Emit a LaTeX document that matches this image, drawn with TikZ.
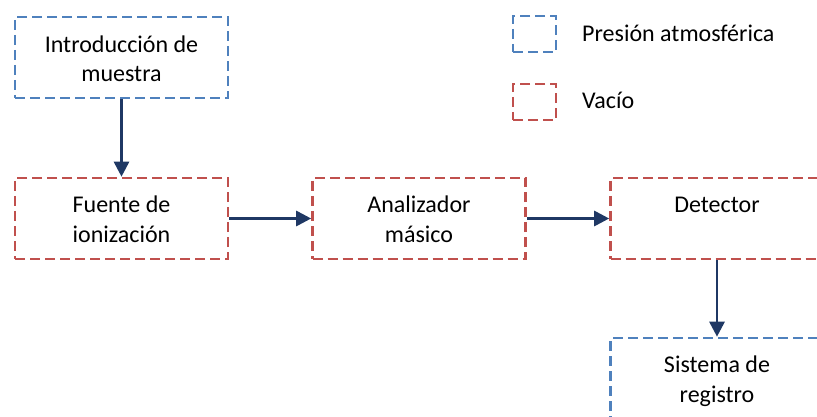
\documentclass[tikz,border=0pt]{standalone}
\usepackage{fontspec}
\setmainfont{Carlito}
\usetikzlibrary{arrows.meta}
\definecolor{bluebox}{HTML}{4F81BD}
\definecolor{redbox}{HTML}{C0504D}
\definecolor{navy}{HTML}{1F3864}
\tikzset{
  pbox/.style={draw=bluebox, line width=2.6pt, dash pattern=on 10pt off 5pt, minimum width=213pt, minimum height=81pt, inner sep=0pt},
  vbox/.style={pbox, draw=redbox},
  lbox/.style={line width=2.6pt, dash pattern=on 10pt off 5pt, minimum width=43pt, minimum height=36pt, inner sep=0pt},
  txt/.style={font=\fontsize{24}{29.5}\selectfont, align=center, inner sep=0pt, anchor=base, text=black},
  ltxt/.style={font=\fontsize{24}{29.5}\selectfont, inner sep=0pt, anchor=base west, text=black},
  conn/.style={draw=navy, line width=2.8pt, -{Triangle[length=15pt,width=15pt]}}
}
\begin{document}
\begin{tikzpicture}[x=1pt,y=1pt]
\useasboundingbox (0,0) rectangle (817,-417);
\clip (0,0) rectangle (817,-417);
% boxes
\node[pbox] (intro) at (121.5,-57.5) {};
\node[vbox] (fuente) at (121.5,-218.5) {};
\node[vbox] (anal) at (419,-218.5) {};
\node[vbox] (det) at (717,-218.5) {};
\node[pbox] (sis) at (717,-378.5) {};
% texts (base anchor = last line's baseline)
\node[txt] (tintro) at (121.5,-82) {Introducción de\\muestra};
\node[txt] (tfuente) at (121.5,-242) {Fuente de\\ionización};
\node[txt] (tanal) at (419,-242) {Analizador\\másico};
\node[txt] (tdet) at (717,-212) {Detector};
\node[txt] (tsis) at (717,-402) {Sistema de\\registro};
% legend
\node[lbox, draw=bluebox] (lp) at (534.5,-34) {};
\node[lbox, draw=redbox] (lv) at (534.5,-102) {};
\node[ltxt] (tlp) at (582,-42) {Presión atmosférica};
\node[ltxt] (tlv) at (582,-109) {Vacío};
% connectors
\draw[conn] (intro.south) -- (fuente.north);
\draw[conn] (fuente.east) -- (anal.west);
\draw[conn] (anal.east) -- (det.west);
\draw[conn] (det.south) -- (sis.north);
\end{tikzpicture}
\end{document}
